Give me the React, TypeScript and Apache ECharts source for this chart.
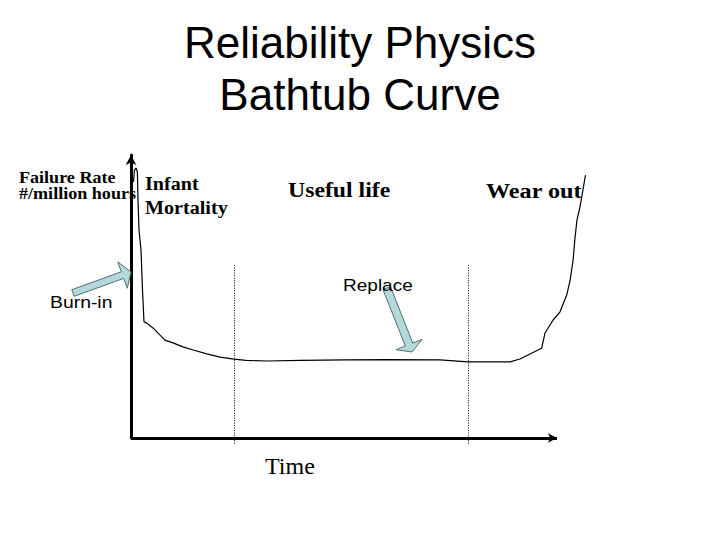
import React, { useEffect, useRef } from "react";
import * as echarts from "echarts";

// Bathtub curve (time in % of arrowed axis length, failure rate in % of axis height)
const timeValues = [
  0.6, 0.8, 1.17, 1.5, 1.64, 1.88, 2.35, 2.7, 3.05, 3.69, 5.16, 7.98, 9.86, 12.2,
  14.6, 17.8, 20.9, 24.2, 27.0, 31.7, 40.0, 50.2, 60.0, 72.5, 79.1, 85.0, 89.0,
  91.3, 96.4, 97.2, 99.1, 100.7, 102.3, 103.1, 103.8, 104.2, 104.7, 105.4, 106.1, 106.7,
];
const rateValues = [
  90.5, 94.7, 95.4, 94.0, 84.0, 73.5, 66.4, 52.3, 41.1, 40.6, 38.9, 34.6, 33.6, 32.2,
  31.1, 29.7, 28.6, 27.9, 27.4, 27.2, 27.4, 27.6, 27.7, 27.6, 26.9, 26.9, 26.9,
  27.9, 31.7, 37.1, 41.7, 44.5, 50.5, 55.8, 62.9, 70.0, 77.0, 81.6, 87.6, 92.9,
];
const timeAxisEnd = 100;
const timeDomainMax = 108;
const phaseBoundaries = [24.3, 79.24];
const boundaryExtent = [-2, 61];

const titleLines = ["Reliability Physics", "Bathtub Curve"];
const yAxisLabelLines = ["Failure Rate", "#/million hours"];
const phaseLabels = ["Infant", "Mortality"];
const usefulLabel = "Useful life";
const wearLabel = "Wear out";
const burnLabel = "Burn-in";
const replaceLabel = "Replace";
const xAxisLabel = "Time";

const SERIF = "'Liberation Serif', 'Times New Roman', serif";
const SANS = "'Liberation Sans', Arial, sans-serif";

function arrowPoints(tail: number[], tip: number[], headLen: number, headHalf: number, shaftHalf: number) {
  const dx = tip[0] - tail[0];
  const dy = tip[1] - tail[1];
  const len = Math.sqrt(dx * dx + dy * dy);
  const ux = dx / len, uy = dy / len;
  const nx = -uy, ny = ux;
  const bx = tip[0] - ux * headLen, by = tip[1] - uy * headLen;
  return [
    [tail[0] + nx * shaftHalf, tail[1] + ny * shaftHalf],
    [bx + nx * shaftHalf, by + ny * shaftHalf],
    [bx + nx * headHalf, by + ny * headHalf],
    [tip[0], tip[1]],
    [bx - nx * headHalf, by - ny * headHalf],
    [bx - nx * shaftHalf, by - ny * shaftHalf],
    [tail[0] - nx * shaftHalf, tail[1] - ny * shaftHalf],
  ];
}

function txt(text: string, x: number, y: number, fontSize: number, family: string, weight: string, align = "left", scaleX = 1) {
  return {
    type: "text",
    x,
    y,
    scaleX,
    z: 10,
    style: {
      text,
      fontSize,
      fontFamily: family,
      fontWeight: weight,
      fill: "#000",
      align,
      textAlign: align,
      verticalAlign: "middle",
      textVerticalAlign: "middle",
    },
  };
}

export default function App() {
  const ref = useRef<HTMLDivElement>(null);
  useEffect(() => {
    if (!ref.current) return;
    const chart = echarts.init(ref.current, null, { renderer: "svg" });
    const curve = timeValues.map((t, i) => [t, rateValues[i]]);
    const arrowStyle = { fill: "#b4d9da", stroke: "#4f6f70", lineWidth: 1 };
    chart.setOption({
      animation: false,
      backgroundColor: "#fff",
      grid: { left: 131, right: 129, top: 155, bottom: 102 },
      xAxis: {
        type: "value",
        min: 0,
        max: timeDomainMax,
        axisLine: { show: false },
        axisTick: { show: false },
        axisLabel: { show: false },
        splitLine: { show: false },
      },
      yAxis: {
        type: "value",
        min: 0,
        max: 100,
        axisLine: { show: true, onZero: false, lineStyle: { color: "#000", width: 3 }, symbol: ["none", "arrow"], symbolSize: [8, 10] },
        axisTick: { show: false },
        axisLabel: { show: false },
        splitLine: { show: false },
      },
      series: [
        {
          type: "line",
          data: curve,
          showSymbol: false,
          clip: false,
          lineStyle: { color: "#000", width: 1.2 },
          z: 3,
          markLine: {
            silent: true,
            symbol: ["none", "arrow"],
            symbolSize: [7, 9],
            label: { show: false },
            lineStyle: { color: "#000", width: 3, type: "solid" },
            data: [[{ coord: [0, 0] }, { coord: [timeAxisEnd, 0] }]],
          },
        },
        ...phaseBoundaries.map((b) => ({
          type: "line",
          data: [[b, boundaryExtent[0]], [b, boundaryExtent[1]]],
          showSymbol: false,
          clip: false,
          lineStyle: { color: "#000", width: 1, type: [1, 1.5] },
          z: 2,
        })),
      ],
      graphic: [
        txt(titleLines[0], 360, 42, 44, SANS, "normal", "center"),
        txt(titleLines[1], 360, 94, 44, SANS, "normal", "center"),
        txt(yAxisLabelLines[0], 19, 178, 16, SERIF, "bold", "left", 1.13),
        txt(yAxisLabelLines[1], 19, 194, 16, SERIF, "bold", "left", 1.13),
        txt(phaseLabels[0], 145, 184, 19, SERIF, "bold", "left", 1.06),
        txt(phaseLabels[1], 145, 208, 19, SERIF, "bold", "left", 1.06),
        txt(usefulLabel, 288, 190, 22, SERIF, "bold", "left", 1.08),
        txt(wearLabel, 486, 190, 22, SERIF, "bold", "left", 1.1),
        txt(burnLabel, 50, 302, 17, SANS, "normal", "left", 1.14),
        txt(replaceLabel, 343, 285, 17, SANS, "normal", "left", 1.12),
        txt(xAxisLabel, 265, 466, 24, SERIF, "normal"),
        { type: "polygon", z: 9, shape: { points: arrowPoints([73, 293], [131, 272], 9, 14, 3.5) }, style: arrowStyle },
        { type: "polygon", z: 9, shape: { points: arrowPoints([386.7, 288], [412, 352], 8, 14, 4) }, style: arrowStyle },
      ],
    });
    return () => chart.dispose();
  }, []);
  return (
    <div
      ref={ref}
      style={{ position: "fixed", left: 0, top: 0, width: 720, height: 540, background: "#fff" }}
    />
  );
}
